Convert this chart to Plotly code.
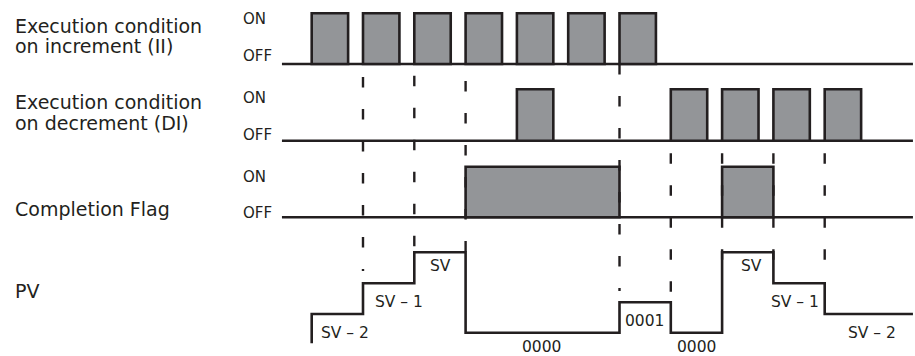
import plotly.graph_objects as go

# ---------------- data ----------------
# time grid (clock steps k = 0..11)
ii_pulses = [0, 1, 2, 3, 4, 5, 6]          # Execution condition on increment ON
di_pulses = [4, 7, 8, 9, 10]               # Execution condition on decrement ON
cf_on_start = [3, 8]                       # Completion Flag ON intervals
cf_on_end = [6, 9]
pv_times = [0, 1, 2, 3, 6, 7, 8, 9, 10]
pv_values = ["SV – 2", "SV – 1", "SV", "0000", "0001", "0000", "SV", "SV – 1", "SV – 2"]
guide_times = [1, 2, 3, 6, 7, 8, 9, 10]

row_labels = [["Execution condition", "on increment (II)"],
              ["Execution condition", "on decrement (DI)"],
              ["Completion Flag"],
              ["PV"]]
state_labels = ["ON", "OFF"]

# ---------------- styles / layout constants ----------------
W, H = 915, 356
X0, P = 311.7, 51.3           # pixel of k=0 and pixels per step
PULSE_W = 0.71
BASE_START, BASE_END = -0.58, 11.72
INK = "#231f20"
GRAY = "#939598"
LW = 2.6
FONT = "DejaVu Sans"

rows = {  # (top, baseline) in y units
    "II": (13.3, 64.0),
    "DI": (89.3, 140.7),
    "CF": (166.7, 217.3),
}
pv_level_y = {"SV": 252.3, "SV – 1": 283.3, "SV – 2": 314.0, "0001": 302.3, "0000": 332.7}
pv_start_y = 343.3
pv_label_x = [0.64, 1.70, 2.51, 4.48, 6.49, 7.50, 8.57, 9.42, 10.93]
pv_label_dy = {"SV": 14.0, "SV – 1": 18.5, "SV – 2": 18.5, "0001": 18.5, "0000": 14.6}

guide_y0 = [77.0, 75.7, 81.0, 64.0, 153.3, 153.3, 153.3, 153.3]
guide_y1 = [271, 247, 252, 291, 293, 262, 262, 261]

row_label_y = [[25.7, 45.5], [102.4, 123.0], [209.0], [290.5]]
state_y = {"II": (18.8, 55.8), "DI": (98.4, 134.7), "CF": (176.7, 212.5)}

fig = go.Figure()
shapes = []
annotations = []

# baselines and pulses
def add_row(key, starts, ends):
    top, base = rows[key]
    shapes.append(dict(type="line", xref="x", yref="y", x0=BASE_START, x1=BASE_END,
                       y0=base, y1=base, line=dict(color=INK, width=LW)))
    for s, e in zip(starts, ends):
        shapes.append(dict(type="rect", xref="x", yref="y", x0=s, x1=e, y0=base, y1=top,
                           fillcolor=GRAY, line=dict(color=INK, width=LW)))

add_row("II", ii_pulses, [k + PULSE_W for k in ii_pulses])
add_row("DI", di_pulses, [k + PULSE_W for k in di_pulses])
add_row("CF", cf_on_start, cf_on_end)

# dashed guide lines
for k, y0, y1 in zip(guide_times, guide_y0, guide_y1):
    shapes.append(dict(type="line", xref="x", yref="y", x0=k, x1=k, y0=y0, y1=y1,
                       line=dict(color=INK, width=2.4, dash="10.5px,21.5px")))

# PV step line
pv_x = [pv_times[0]] + pv_times + [BASE_END]
pv_y = [pv_start_y] + [pv_level_y[v] for v in pv_values] + [pv_level_y[pv_values[-1]]]
fig.add_trace(go.Scatter(x=pv_x, y=pv_y, mode="lines", line=dict(color=INK, width=LW, shape="hv"),
                         hoverinfo="skip", showlegend=False))

# PV value labels
for v, lx in zip(pv_values, pv_label_x):
    annotations.append(dict(x=lx, y=pv_level_y[v] + pv_label_dy[v], xref="x", yref="y",
                            text=v, showarrow=False, xanchor="center", yanchor="middle",
                            borderpad=0,
                            font=dict(family=FONT, size=15.5, color=INK)))

# row labels
for lines, ys in zip(row_labels, row_label_y):
    for t, y in zip(lines, ys):
        annotations.append(dict(x=13 / W, y=y, xref="paper", yref="y", text=t, showarrow=False,
                                xanchor="left", yanchor="middle",
                                font=dict(family=FONT, size=19, color=INK)))

# ON / OFF labels
for key in ["II", "DI", "CF"]:
    for lab, y in zip(state_labels, state_y[key]):
        annotations.append(dict(x=240.5 / W, y=y, xref="paper", yref="y", text=lab, showarrow=False,
                                xanchor="left", yanchor="middle",
                                font=dict(family=FONT, size=15, color=INK)))

fig.update_layout(
    width=W, height=H, autosize=False,
    margin=dict(l=0, r=0, t=0, b=0, pad=0),
    paper_bgcolor="white", plot_bgcolor="white",
    xaxis=dict(range=[-X0 / P, (W - X0) / P], visible=False, fixedrange=True),
    yaxis=dict(range=[H, 0], visible=False, fixedrange=True),
    shapes=shapes, annotations=annotations, showlegend=False,
)

fig.write_html("out.html", config={"displayModeBar": False},
               post_script="document.body.style.margin='0';document.body.style.overflow='hidden';")
